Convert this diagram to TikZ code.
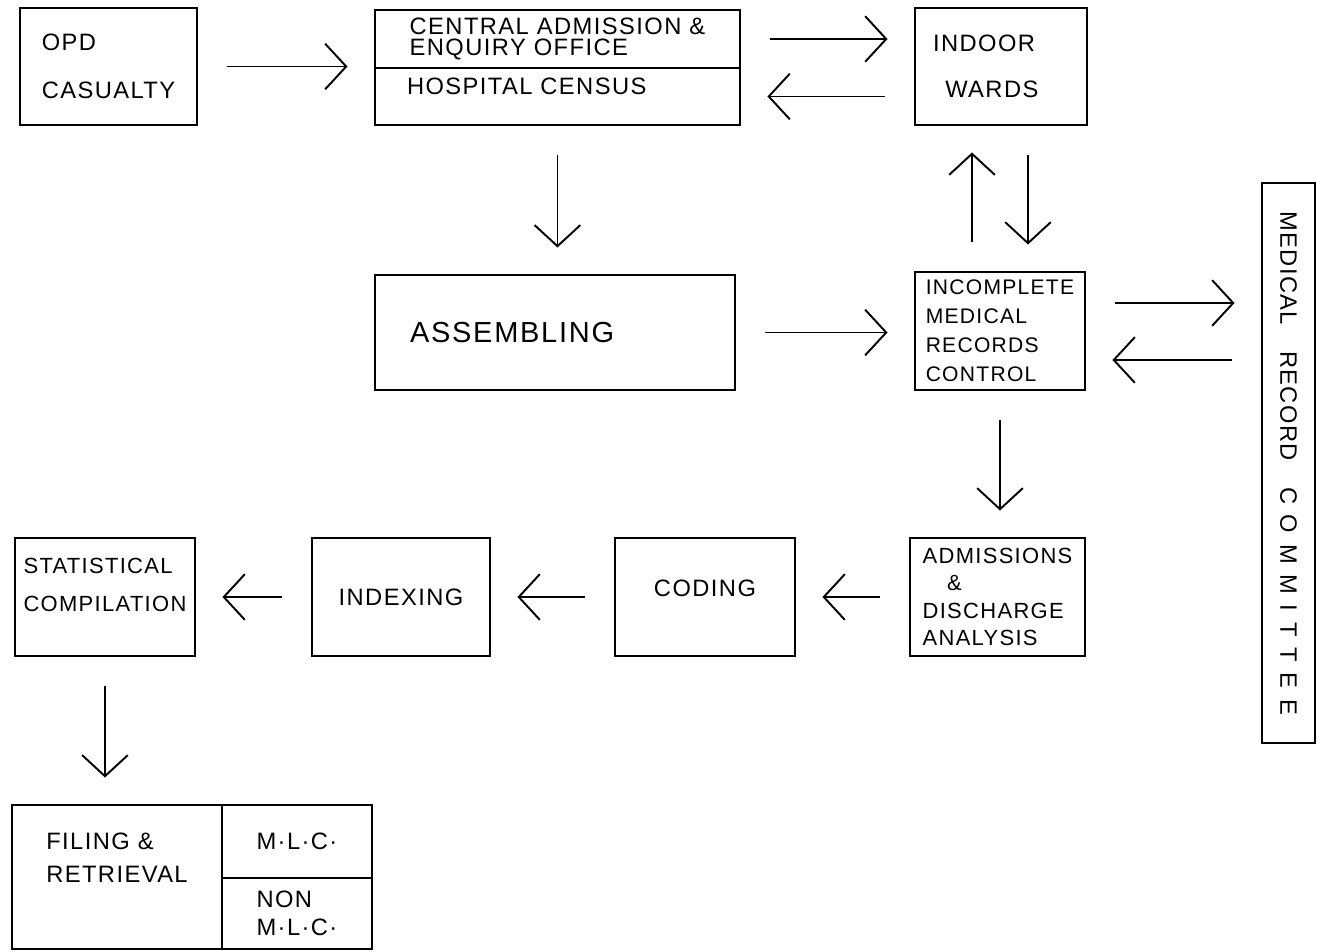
\documentclass[tikz,border=0pt]{standalone}
\usepackage{fontspec}
\setmainfont{Liberation Sans}[LetterSpace=6]
\usetikzlibrary{arrows.meta,positioning,calc}
\tikzset{
  box/.style={rectangle, draw, line width=1.4pt, anchor=north west, outer sep=0pt, inner sep=2pt, align=left, font=\fontsize{13.5}{16}\selectfont},
  arrow/.style={-{Straight Barb[length=12pt,width=26pt]}, line width=1.1pt, shorten <=0.6cm, shorten >=0.55cm},
}

\begin{document}
\begin{tikzpicture}[x=0.02cm, y=-0.02cm]
  \useasboundingbox (0,0) rectangle (1317,951);

  % top row
  \node[box, minimum width=3.54cm, minimum height=2.34cm] (opd) at (20,8) {OPD\\[11pt]CASUALTY};
  \node[box, minimum width=7.3cm, minimum height=1.16cm, font=\fontsize{13.5}{12}\selectfont] (centtop) at (375,10) {CENTRAL ADMISSION \&\\ENQUIRY OFFICE};
  \node[box, minimum width=7.3cm, minimum height=1.14cm, text width=6.02cm, inner xsep=0.64cm] (centbot) at (centtop.south west) {HOSPITAL CENSUS\rule[-12pt]{0pt}{0pt}};
  \node[box, minimum width=3.44cm, minimum height=2.34cm, text width=2.72cm, inner xsep=0.36cm] (indoor) at (915,8) {INDOOR\\[10pt]\hspace*{7pt}WARDS};

  % middle row
  \node[box, minimum width=7.2cm, minimum height=2.3cm, text width=5.8cm, inner xsep=0.7cm, font=\fontsize{16.5}{18}\selectfont] (assem) at (375,275) {ASSEMBLING};
  \node[box, minimum width=3.4cm, minimum height=2.36cm, font=\fontsize{12}{16.5}\selectfont] (incomp) at (915,272) {INCOMPLETE\\MEDICAL\\RECORDS\\CONTROL};
  \node[box, rotate=-90, anchor=center, minimum width=11.2cm, minimum height=1.06cm] (mrc) at (1288.5,463) {MEDICAL\hspace{1.1em}RECORD\hspace{1.1em}{\addfontfeature{LetterSpace=45}COMMITTEE}};

  % bottom row
  \node[box, minimum width=3.5cm, minimum height=2.36cm, font=\fontsize{12.5}{15.5}\selectfont] (admis) at (910,538) {ADMISSIONS\\\hspace*{14pt}\&\\DISCHARGE\\ANALYSIS};
  \node[box, minimum width=3.6cm, minimum height=2.36cm] (coding) at (615,538) {CODING\rule[-10pt]{0pt}{0pt}};
  \node[box, minimum width=3.56cm, minimum height=2.36cm] (index) at (312,538) {INDEXING};
  \node[box, minimum width=3.6cm, minimum height=2.36cm, font=\fontsize{12.5}{16}\selectfont] (stat) at (15,538) {STATISTICAL\\[6pt]COMPILATION\rule[-14pt]{0pt}{0pt}};

  % filing
  \node[box, minimum width=4.2cm, minimum height=2.88cm] (fil) at (12,805) {FILING \&\\[3pt]RETRIEVAL\rule[-22pt]{0pt}{0pt}};
  \node[box, minimum width=3.0cm, minimum height=1.46cm] (mlc) at (fil.north east) {M·L·C·};
  \node[box, minimum width=3.0cm, minimum height=1.42cm] (nonmlc) at (mlc.south west) {NON\\M·L·C·};

  % connectors
  \draw[arrow] (opd.east) -- (opd.east -| centtop.west);
  \draw[arrow] (centtop.east) -- (centtop.east -| indoor.west);
  \draw[arrow] (centbot.east -| indoor.west) -- (centbot.east);
  \draw[arrow] (centbot.south) -- (centbot.south |- assem.north);
  \draw[arrow] ([xshift=-0.56cm]incomp.north) -- ([xshift=-0.56cm]incomp.north |- indoor.south);
  \draw[arrow] ([xshift=0.54cm]indoor.south) -- ([xshift=0.54cm]indoor.south |- incomp.north);
  \draw[arrow] (assem.east) -- (assem.east -| incomp.west);
  \draw[arrow] ([yshift=0.56cm]incomp.east) -- ([yshift=0.56cm]incomp.east -| mrc.south);
  \draw[arrow] ([yshift=-0.58cm]incomp.east -| mrc.south) -- ([yshift=-0.58cm]incomp.east);
  \draw[arrow] (incomp.south) -- (incomp.south |- admis.north);
  \draw[arrow] (admis.west) -- (admis.west -| coding.east);
  \draw[arrow] (coding.west) -- (coding.west -| index.east);
  \draw[arrow] (index.west) -- (index.west -| stat.east);
  \draw[arrow] (stat.south) -- (stat.south |- fil.north);
\end{tikzpicture}
\end{document}
